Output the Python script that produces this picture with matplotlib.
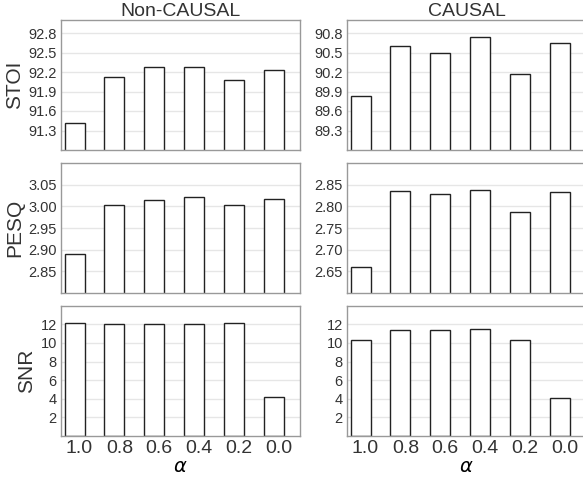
import numpy as np
import matplotlib.pyplot as plt
from matplotlib.transforms import ScaledTranslation

alphas = ["1.0", "0.8", "0.6", "0.4", "0.2", "0.0"]
titles = ["Non-CAUSAL", "CAUSAL"]
metrics = ["STOI", "PESQ", "SNR"]

stoi_nc = [91.41, 92.13, 92.27, 92.28, 92.08, 92.23]
stoi_c = [89.83, 90.60, 90.49, 90.74, 90.17, 90.64]
pesq_nc = [2.890, 3.004, 3.015, 3.021, 3.003, 3.017]
pesq_c = [2.659, 2.835, 2.828, 2.838, 2.788, 2.834]
snr_nc = [12.1, 12.0, 12.03, 12.03, 12.1, 4.15]
snr_c = [10.34, 11.43, 11.4, 11.47, 10.3, 4.1]

data = [[stoi_nc, stoi_c], [pesq_nc, pesq_c], [snr_nc, snr_c]]
ylims = [[(91.0, 93.0), (89.0, 91.0)], [(2.80, 3.10), (2.60, 2.90)], [(0, 14), (0, 14)]]
yticks = [[np.arange(91.3, 92.81, 0.3), np.arange(89.3, 90.81, 0.3)],
          [np.arange(2.85, 3.051, 0.05), np.arange(2.65, 2.851, 0.05)],
          [np.arange(2, 13, 2), np.arange(2, 13, 2)]]
yfmt = ["%.1f", "%.2f", "%d"]

plt.rcParams['font.family'] = ['Liberation Sans', 'DejaVu Sans']
fig = plt.figure(figsize=(5.83, 4.78), dpi=100)
W, H = 583, 478

lefts = [61, 347]
width = 239
tops = [20, 163.3, 305.7]
bottoms = [150, 292.7, 436]

x = np.arange(len(alphas))
shift = ScaledTranslation(5 / 100, 0, fig.dpi_scale_trans)
for r in range(3):
    for c in range(2):
        ax = fig.add_axes([lefts[c] / W, 1 - bottoms[r] / H, width / W, (bottoms[r] - tops[r]) / H])
        ax.set_axisbelow(True)
        ax.grid(axis="y", color="#e6e6e6", linewidth=1)
        ax.bar(x, data[r][c], width=0.5, color="white", edgecolor="#222222", linewidth=1)
        ax.set_xlim(-0.34, 5.66)
        ax.set_ylim(*ylims[r][c])
        ax.set_yticks(yticks[r][c])
        ax.set_yticklabels([yfmt[r] % v for v in yticks[r][c]], fontsize=10.5, color="#333333")
        ax.tick_params(length=0, pad=3)
        for s in ax.spines.values():
            s.set_color("#999999")
            s.set_linewidth(1)
        if r == 2:
            ax.set_xticks(x)
            ax.set_xticklabels(alphas, fontsize=14, color="#333333")
            for lbl in ax.get_xticklabels():
                lbl.set_transform(lbl.get_transform() + shift)
            ax.set_xlabel(r"$\alpha$", fontsize=14, labelpad=1)
        else:
            ax.set_xticks([])
        if r == 0:
            ax.set_title(titles[c], fontsize=14, pad=3, color="#333333")
        if c == 0:
            ax.set_ylabel(metrics[r], fontsize=15, labelpad=3, color="#333333")

fig.savefig("out.png", dpi=100)
